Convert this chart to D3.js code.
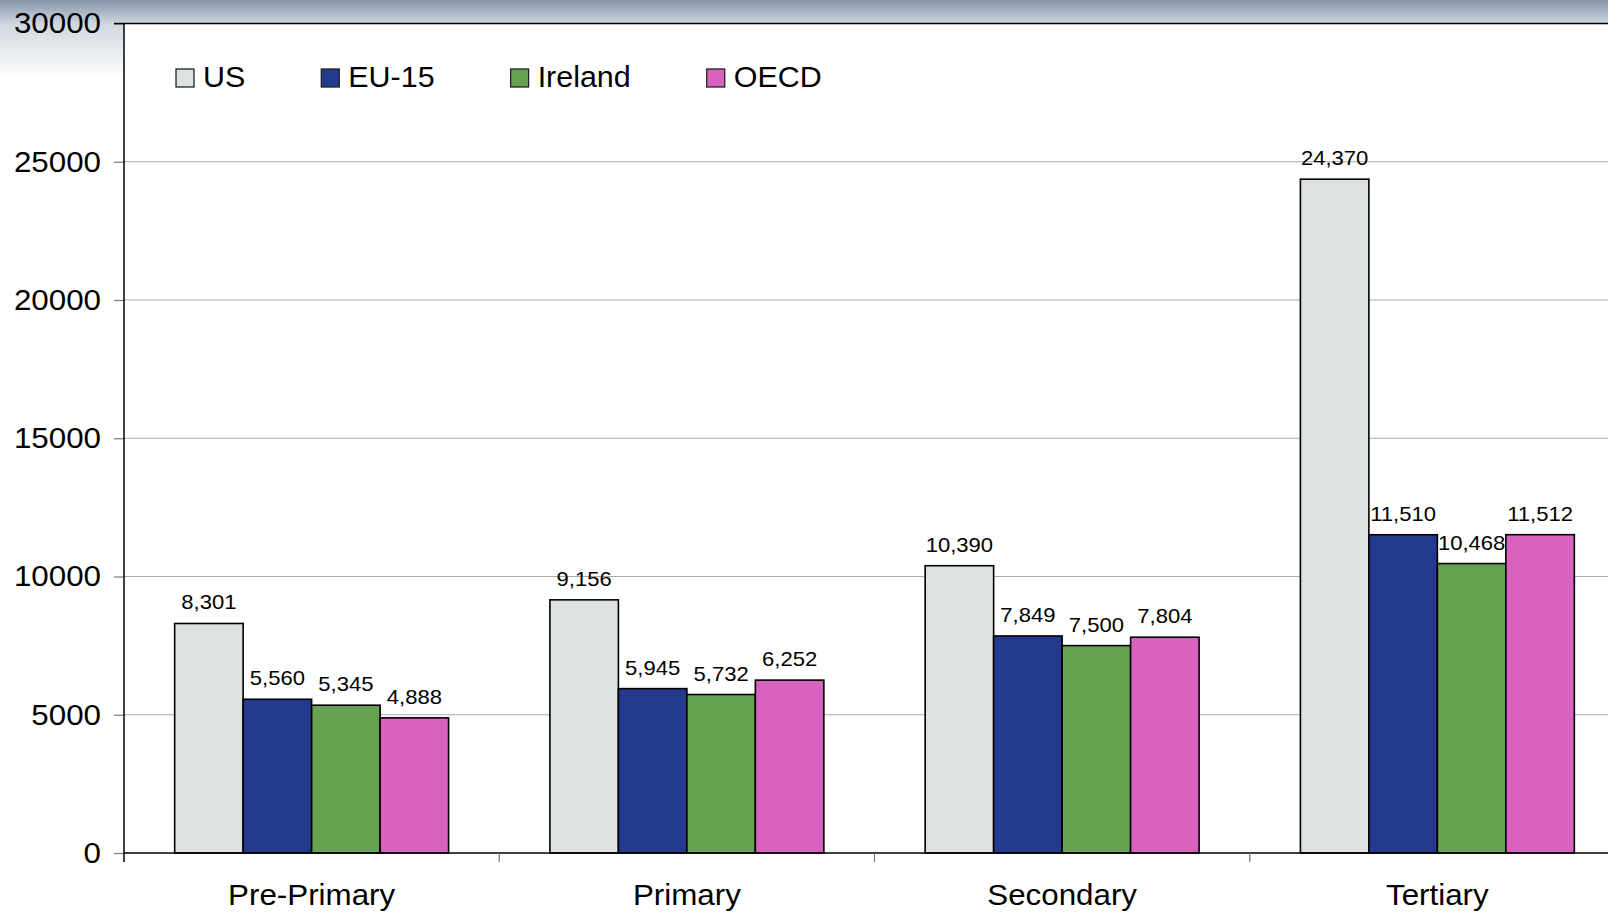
<!DOCTYPE html>
<html>
<head>
<meta charset="utf-8">
<script src="https://cdn.jsdelivr.net/npm/d3@7"></script>
<style>
  html, body { margin: 0; padding: 0; overflow: hidden; }
  body { width: 1608px; height: 913px; font-family: "Liberation Sans", Arial, sans-serif; }
  text { fill: #000; }
</style>
</head>
<body>
<div id="chart"></div>
<script>
"use strict";

//
//   DATA
//

var categories = ["Pre-Primary", "Primary", "Secondary", "Tertiary"];
var seriesNames = ["US", "EU-15", "Ireland", "OECD"];
var usValues = [8301, 9156, 10390, 24370];
var eu15Values = [5560, 5945, 7849, 11510];
var irelandValues = [5345, 5732, 7500, 10468];
var oecdValues = [4888, 6252, 7804, 11512];
var yTicks = [0, 5000, 10000, 15000, 20000, 25000, 30000];

var colors = {
    "US": "#dde1e1",
    "EU-15": "#233a8e",
    "Ireland": "#67a253",
    "OECD": "#d962bf"
};

var allValues = [usValues, eu15Values, irelandValues, oecdValues];

//
//   SET UP
//

var W = 1608, H = 913;
var plotLeft = 124, plotTop = 23.5, plotBottom = 853, plotRight = 1625;

var svg = d3.select("#chart").append("svg")
    .attr("width", W)
    .attr("height", H);

// stretch glyphs a little wider, like the original slide text
function widen(sel, k) {
    sel.each(function() {
        var len = this.getComputedTextLength();
        d3.select(this).attr("textLength", len * k).attr("lengthAdjust", "spacingAndGlyphs");
    });
}

// background gradient (slide look)
var defs = svg.append("defs");
var grad = defs.append("linearGradient")
    .attr("id", "bg").attr("x1", 0).attr("y1", 0).attr("x2", 0).attr("y2", 1);
grad.append("stop").attr("offset", "0").attr("stop-color", "#8393a8");
grad.append("stop").attr("offset", "0.3").attr("stop-color", "#cfd7de");
grad.append("stop").attr("offset", "1").attr("stop-color", "#ffffff");

svg.append("rect").attr("width", W).attr("height", H).attr("fill", "#fff");
svg.append("rect").attr("width", W).attr("height", 78).attr("fill", "url(#bg)");
svg.append("rect")
    .attr("x", plotLeft).attr("y", plotTop)
    .attr("width", W - plotLeft).attr("height", H - plotTop)
    .attr("fill", "#fff");

var x0 = d3.scaleBand().domain(categories).range([plotLeft, plotRight])
    .paddingInner(0.27).paddingOuter(0.135);
var x1 = d3.scaleBand().domain(seriesNames).range([0, x0.bandwidth()]);
var y = d3.scaleLinear().domain([0, 30000]).range([plotBottom, plotTop]);

// gridlines
svg.append("g").selectAll("line.grid")
    .data(yTicks.filter(function(t) { return t > 0 && t < 30000; }))
    .enter().append("line")
    .attr("x1", plotLeft).attr("x2", W)
    .attr("y1", function(d) { return y(d); })
    .attr("y2", function(d) { return y(d); })
    .attr("stroke", "#a8a8a8").attr("stroke-width", 1.2);

// y axis
var yAxis = svg.append("g")
    .attr("transform", "translate(" + plotLeft + ",0)")
    .call(d3.axisLeft(y).tickValues(yTicks).tickSize(10).tickPadding(13).tickFormat(d3.format("d")));
yAxis.select(".domain").remove();
yAxis.selectAll(".tick line").attr("stroke", "#777").attr("stroke-width", 1.2);
yAxis.selectAll(".tick text")
    .style("font-family", "Liberation Sans, Arial, sans-serif")
    .style("font-size", "29px").attr("fill", "#000")
    .call(widen, 1.08);

// bars
var groups = svg.append("g").selectAll("g.cat")
    .data(categories)
    .enter().append("g")
    .attr("transform", function(c) { return "translate(" + x0(c) + ",0)"; });

var bars = groups.selectAll("g.bar")
    .data(function(c, i) {
        return seriesNames.map(function(s, j) {
            return { series: s, value: allValues[j][i] };
        });
    })
    .enter().append("g");

bars.append("rect")
    .attr("x", function(d) { return x1(d.series); })
    .attr("width", x1.bandwidth())
    .attr("y", function(d) { return y(d.value); })
    .attr("height", function(d) { return y(0) - y(d.value); })
    .attr("fill", function(d) { return colors[d.series]; })
    .attr("stroke", "#000").attr("stroke-width", 1.6);

bars.append("text")
    .attr("x", function(d) { return x1(d.series) + x1.bandwidth() / 2; })
    .attr("y", function(d) { return y(d.value) - 14; })
    .attr("text-anchor", "middle")
    .style("font-size", "21px")
    .text(function(d) { return d3.format(",")(d.value); })
    .call(widen, 1.05);

// axes lines
var step = x0.step();
svg.append("line").attr("x1", plotLeft).attr("x2", W).attr("y1", plotBottom).attr("y2", plotBottom)
    .attr("stroke", "#000").attr("stroke-width", 1.5);
svg.append("line").attr("x1", plotLeft).attr("x2", plotLeft).attr("y1", plotTop).attr("y2", plotBottom + 9)
    .attr("stroke", "#000").attr("stroke-width", 1.5);
svg.append("line").attr("x1", plotLeft - 10).attr("x2", W).attr("y1", plotTop).attr("y2", plotTop)
    .attr("stroke", "#000").attr("stroke-width", 1.5);

// category ticks and labels
categories.forEach(function(c, i) {
    if (i > 0) {
        svg.append("line")
            .attr("x1", plotLeft + i * step).attr("x2", plotLeft + i * step)
            .attr("y1", plotBottom).attr("y2", plotBottom + 9)
            .attr("stroke", "#777").attr("stroke-width", 1.2);
    }
    svg.append("text")
        .attr("x", x0(c) + x0.bandwidth() / 2)
        .attr("y", 905)
        .attr("text-anchor", "middle")
        .style("font-size", "29px")
        .text(c)
        .call(widen, 1.08);
});

// legend
var lx = 176;
seriesNames.forEach(function(s) {
    svg.append("rect")
        .attr("x", lx).attr("y", 69)
        .attr("width", 18).attr("height", 18)
        .attr("fill", colors[s])
        .attr("stroke", "#222").attr("stroke-width", 1.3);
    var t = svg.append("text")
        .attr("x", lx + 27).attr("y", 87)
        .style("font-size", "29px")
        .text(s);
    var w = t.node().getComputedTextLength() * 1.05;
    t.attr("textLength", w).attr("lengthAdjust", "spacingAndGlyphs");
    lx = lx + 27 + w + 76;
});
</script>
</body>
</html>
